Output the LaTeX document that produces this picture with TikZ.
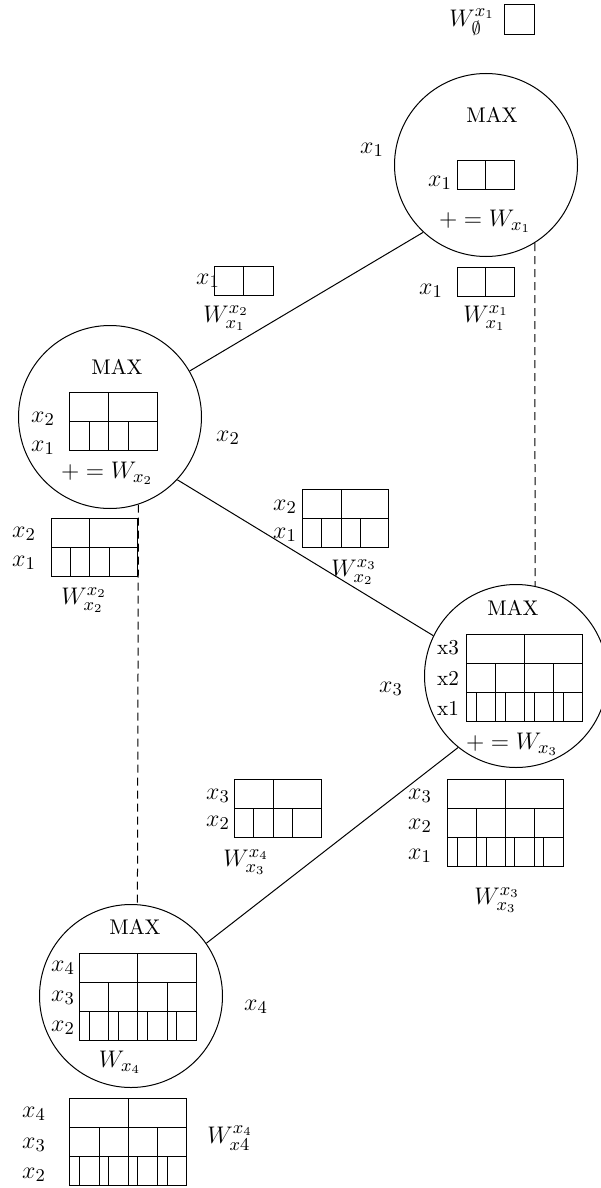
\documentclass[tikz,border=0pt]{standalone}
\begin{document}
\begin{tikzpicture}[x=0.5pt,y=-0.5pt, line width=0.5pt,
  ml/.style={font=\fontsize{12.6}{15}\selectfont, inner sep=0pt},
  tl/.style={font=\fontsize{10.6}{13}\selectfont, inner sep=0pt},
  maxnode/.style={circle, draw, minimum size=91.5pt, inner sep=0pt},
  dashlink/.style={dash pattern=on 4pt off 2.5pt}]
\useasboundingbox (0,0) rectangle (600,1188);

% circles
\node[maxnode] (c1) at (486,165) {};
\node[maxnode] (c2) at (110,417) {};
\node[maxnode] (c3) at (516,676) {};
\node[maxnode] (c4) at (131,996) {};

% connectors
\draw (c2.30) -- (c1.227);
\draw (c2.-43) -- (c3.154);
\draw (c3.-129) -- (c4.35);
\draw[dashlink] (c1.-58.5) -- (c3.78.7);
\draw[dashlink] (c2.-72.7) -- (c4.86);

% Box A
\draw (504,5) rectangle (534,35);
\node[ml] (la) at (472,22) {$W^{x_1}_{\emptyset}$};

% Box B (in c1)
\draw (457,160) rectangle (514,189) (485.5,160) -- (485.5,189);
\node[tl] (m1) at (492,115) {MAX};
\node[ml] (b1) at (440,183) {$x_1$};
\node[ml] (p1) at (485,221) {$+=W_{x_1}$};
\node[ml] (o1) at (372,150) {$x_1$};

% Box C
\draw (457,267) rectangle (514,296) (485.5,267) -- (485.5,296);
\node[ml] (cx1) at (431,291) {$x_1$};
\node[ml] (cw) at (486,318) {$W^{x_1}_{x_1}$};

% Box D
\draw (214,266) rectangle (273,295) (243,266) -- (243,295);
\node[ml] (dx1) at (208,281) {$x_1$};
\node[ml] (dw) at (226,318) {$W^{x_2}_{x_1}$};

% Box E (in c2)
\draw (69,392) rectangle (157,450) (69,421) -- (157,421)
  (108,392) -- (108,450) (89,421) -- (89,450) (128,421) -- (128,450);
\node[tl] (m2) at (117,367) {MAX};
\node[ml] (ex2) at (43,419) {$x_2$};
\node[ml] (ex1) at (43,448) {$x_1$};
\node[ml] (p2) at (107,473) {$+=W_{x_2}$};
\node[ml] (o2) at (228,438) {$x_2$};

% Box F
\draw (51,518) rectangle (137,576) (51,547) -- (137,547)
  (89,518) -- (89,576) (70,547) -- (70,576) (109,547) -- (109,576);
\node[ml] (fx2) at (24,534) {$x_2$};
\node[ml] (fx1) at (24,563) {$x_1$};
\node[ml] (fw) at (84,600) {$W^{x_2}_{x_2}$};

% Box G
\draw (302,489) rectangle (388,547) (302,518) -- (388,518)
  (341,489) -- (341,547) (321,518) -- (321,547) (360,518) -- (360,547);
\node[ml] (gx2) at (285,507) {$x_2$};
\node[ml] (gx1) at (285,535) {$x_1$};
\node[ml] (gw) at (354,572) {$W^{x_3}_{x_2}$};

% Box H (in c3)
\draw (466,634) rectangle (582,721) (466,663) -- (582,663) (466,692) -- (582,692)
  (524,634) -- (524,721)
  (495,663) -- (495,721) (553,663) -- (553,721)
  (476,692) -- (476,721) (505,692) -- (505,721) (534,692) -- (534,721) (563,692) -- (563,721);
\node[tl] (m3) at (513,608) {MAX};
\node[tl] (hx3) at (448,648) {x3};
\node[tl] (hx2) at (448,678) {x2};
\node[tl] (hx1) at (448,708) {x1};
\node[ml] (p3) at (512,744) {$+=W_{x_3}$};
\node[ml] (o3) at (391,689) {$x_3$};

% Box I
\draw (447,779) rectangle (563,866) (447,808) -- (563,808) (447,837) -- (563,837)
  (505,779) -- (505,866)
  (476,808) -- (476,866) (534,808) -- (534,866)
  (457,837) -- (457,866) (486,837) -- (486,866) (514,837) -- (514,866) (543,837) -- (543,866);
\node[ml] (ix3) at (420,796) {$x_3$};
\node[ml] (ix2) at (420,826) {$x_2$};
\node[ml] (ix1) at (420,856) {$x_1$};
\node[ml] (iw) at (497,900) {$W^{x_3}_{x_3}$};

% Box J
\draw (234,779) rectangle (321,837) (234,808) -- (321,808)
  (273,779) -- (273,837) (253,808) -- (253,837) (292,808) -- (292,837);
\node[ml] (jx3) at (218,796) {$x_3$};
\node[ml] (jx2) at (218,823) {$x_2$};
\node[ml] (jw) at (246,862) {$W^{x_4}_{x_3}$};

% Box K (in c4)
\draw (79,953) rectangle (196,1040) (79,982) -- (196,982) (79,1011) -- (196,1011)
  (137,953) -- (137,1040)
  (108,982) -- (108,1040) (167,982) -- (167,1040)
  (89,1011) -- (89,1040) (118,1011) -- (118,1040) (147,1011) -- (147,1040) (176,1011) -- (176,1040);
\node[tl] (m4) at (135,927) {MAX};
\node[ml] (kx4) at (63,968) {$x_4$};
\node[ml] (kx3) at (63,998) {$x_3$};
\node[ml] (kx2) at (63,1028) {$x_2$};
\node[ml] (w4) at (120,1062) {$W_{x_4}$};
\node[ml] (o4) at (256,1007) {$x_4$};

% Box L
\draw (69,1098) rectangle (186,1185) (69,1127) -- (186,1127) (69,1156) -- (186,1156)
  (128,1098) -- (128,1185)
  (99,1127) -- (99,1185) (157,1127) -- (157,1185)
  (79,1156) -- (79,1185) (108,1156) -- (108,1185) (137,1156) -- (137,1185) (167,1156) -- (167,1185);
\node[ml] (lx4) at (34,1114) {$x_4$};
\node[ml] (lx3) at (34,1145) {$x_3$};
\node[ml] (lx2) at (34,1175) {$x_2$};
\node[ml] (lw) at (230,1138) {$W^{x_4}_{x4}$};
\end{tikzpicture}
\end{document}
